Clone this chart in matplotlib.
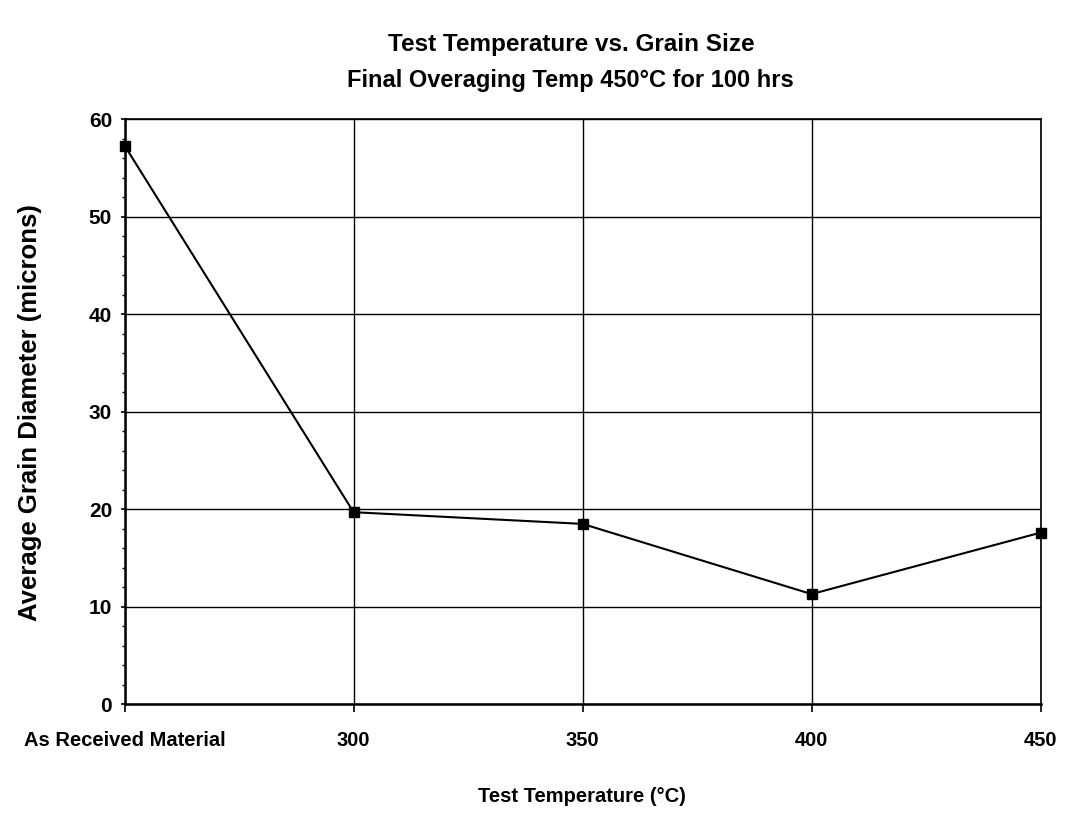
import matplotlib
matplotlib.use("Agg")
import matplotlib.pyplot as plt
from matplotlib.ticker import MultipleLocator

# ---------------------------
# Data
# ---------------------------
categories = ['As Received Material', '300', '350', '400', '450']
grain_size = [57.3, 19.7, 18.5, 11.3, 17.6]

narrow = ['Liberation Sans Narrow', 'Liberation Sans', 'DejaVu Sans']
plt.rcParams['font.family'] = narrow

fig = plt.figure(figsize=(10.65, 8.17), dpi=100)
ax = fig.add_axes([0.117, 0.138, 0.860, 0.716])

x = list(range(len(categories)))
ax.plot(x, grain_size, color='black', linewidth=1.5, marker='s',
        markersize=7, markerfacecolor='black', zorder=3, clip_on=False)

ax.set_xlim(0, len(categories) - 1)
ax.set_ylim(0, 60)
ax.set_xticks(x)
ax.set_xticklabels(categories)
ax.yaxis.set_major_locator(MultipleLocator(10))
ax.yaxis.set_minor_locator(MultipleLocator(2))

ax.grid(True, which='major', color='black', linewidth=1.0)
ax.set_axisbelow(True)

for side in ['left', 'bottom']:
    ax.spines[side].set_linewidth(1.8)
for side in ['top', 'right']:
    ax.spines[side].set_linewidth(1.2)

ax.tick_params(axis='x', which='major', direction='out', length=6,
               width=1.2, labelsize=14.5, pad=13)
ax.tick_params(axis='y', which='major', direction='out', length=3,
               width=1.2, labelsize=15, pad=6)
ax.tick_params(axis='y', which='minor', direction='out', length=2.5, width=1.0)
for lbl in ax.get_xticklabels() + ax.get_yticklabels():
    lbl.set_fontweight('bold')

# axis titles
fig.text(30 / 1065, 1 - 413 / 817, 'Average Grain Diameter (microns)',
         rotation=90, ha='center', va='center', fontsize=18.5,
         fontweight='bold', family=['Liberation Sans', 'DejaVu Sans'])
fig.text(582 / 1065, 1 - 797 / 817, 'Test Temperature (\u00b0C)',
         ha='center', va='center', fontsize=14.5, fontweight='bold')

# chart title
fig.text(0.536, 0.945, 'Test Temperature vs. Grain Size', ha='center',
         va='center', fontsize=17.5, fontweight='bold')
fig.text(0.536, 0.902, 'Final Overaging Temp 450\u00b0C for 100 hrs',
         ha='center', va='center', fontsize=17, fontweight='bold')

fig.savefig('out.png', dpi=100)
plt.close(fig)
